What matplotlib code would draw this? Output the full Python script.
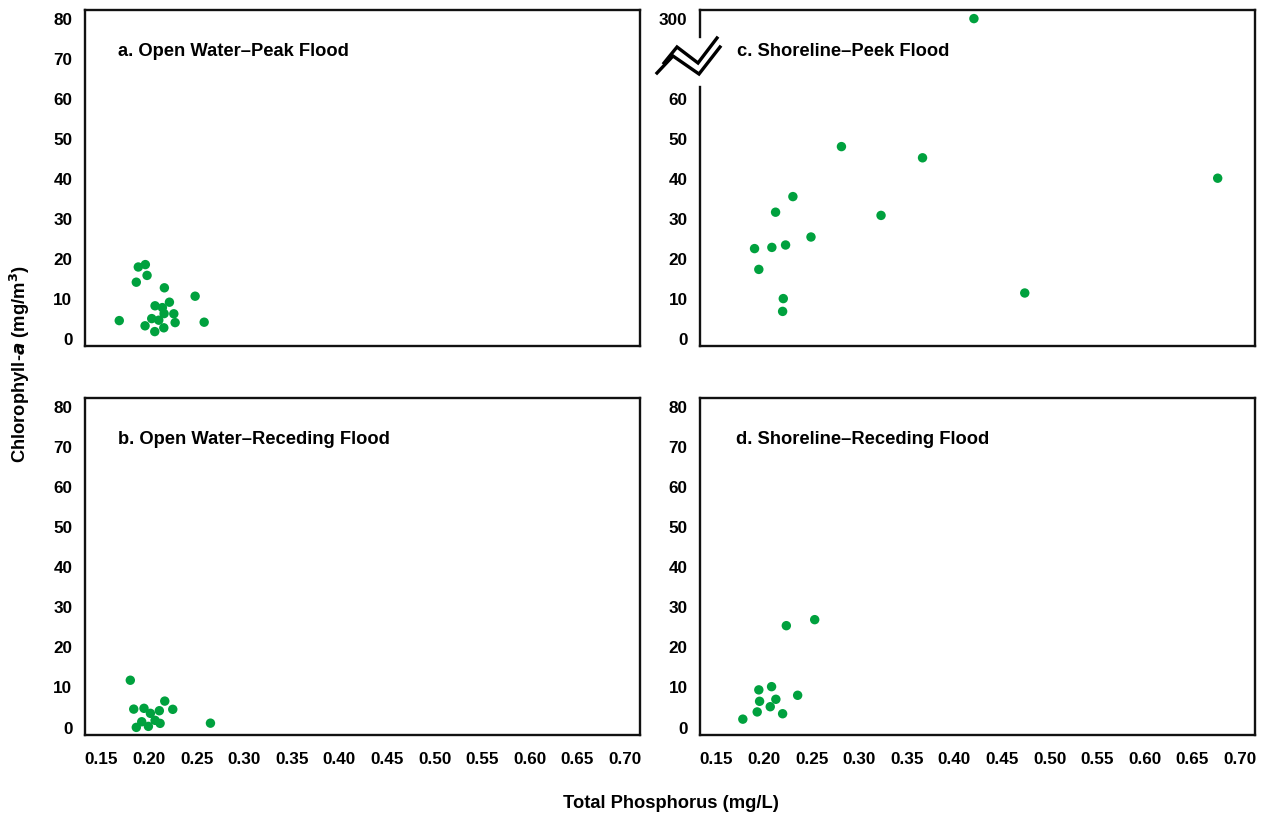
import numpy as np
import matplotlib
matplotlib.use("Agg")
import matplotlib.pyplot as plt
from matplotlib.lines import Line2D

plt.rcParams['font.family'] = ['Liberation Sans', 'DejaVu Sans']
plt.rcParams['font.weight'] = 'bold'

# ---------------- data ----------------
a_tp = [0.1887, 0.1961, 0.1979, 0.1866, 0.2161, 0.2484, 0.2214, 0.2063, 0.2140, 0.2158,
        0.2260, 0.1687, 0.2028, 0.2102, 0.2274, 0.2579, 0.1958, 0.2155, 0.2060]
a_chl = [17.9, 18.5, 15.8, 14.1, 12.7, 10.6, 9.1, 8.2, 7.75, 6.25,
         6.2, 4.5, 5.0, 4.6, 4.0, 4.1, 3.2, 2.7, 1.75]

b_tp = [0.1803, 0.1839, 0.1947, 0.2165, 0.2014, 0.2108, 0.2249, 0.1923, 0.2063, 0.2116,
        0.1866, 0.1993, 0.2645]
b_chl = [11.8, 4.6, 4.8, 6.6, 3.55, 4.2, 4.55, 1.45, 1.8, 1.05, 0.05, 0.3, 1.1]

c_tp = [0.2813, 0.3665, 0.2303, 0.2121, 0.3229, 0.2493, 0.1900, 0.2082, 0.2226, 0.1945,
        0.2202, 0.2195, 0.4739, 0.6766, 0.4205]
c_chl = [48.0, 45.2, 35.5, 31.6, 30.8, 25.4, 22.5, 22.8, 23.4, 17.3,
         10.0, 6.8, 11.4, 40.1, 300.0]

d_tp = [0.2234, 0.2532, 0.1945, 0.2079, 0.2353, 0.1953, 0.2124, 0.2065, 0.1928, 0.2195, 0.1777]
d_chl = [25.4, 26.9, 9.4, 10.2, 8.05, 6.55, 7.05, 5.2, 3.9, 3.45, 2.1]

x_ticks = [0.15, 0.20, 0.25, 0.30, 0.35, 0.40, 0.45, 0.50, 0.55, 0.60, 0.65, 0.70]
y_ticks = [0, 10, 20, 30, 40, 50, 60, 70, 80]
c_y_ticks = [0, 10, 20, 30, 40, 50, 60, 300]

titles = ["a. Open Water\u2013Peak Flood", "b. Open Water\u2013Receding Flood",
          "c. Shoreline\u2013Peek Flood", "d. Shoreline\u2013Receding Flood"]

# ---------------- figure ----------------
W, H = 1266, 816
fig = plt.figure(figsize=(W / 100, H / 100), dpi=100)

def box(l, t, r, b):
    return [l / W, 1 - b / H, (r - l) / W, (b - t) / H]

ax_a = fig.add_axes(box(85, 10, 640, 346))
ax_b = fig.add_axes(box(85, 398, 640, 735))
ax_c = fig.add_axes(box(700, 10, 1255, 346))
ax_d = fig.add_axes(box(700, 398, 1255, 735))

GREEN = '#00a13e'
FS = 12.3
XLIM = (0.1327, 0.7158)
YLIM = (-1.85, 82.15)

def brk_fwd(y):
    y = np.asarray(y, dtype=float)
    return np.where(y <= 70, y, 70 + (y - 70) / 23.0)

def brk_inv(y):
    y = np.asarray(y, dtype=float)
    return np.where(y <= 70, y, 70 + (y - 70) * 23.0)

for ax, xs, ys, title, bottom, tx in [(ax_a, a_tp, a_chl, titles[0], False, 0.059),
                                      (ax_b, b_tp, b_chl, titles[1], True, 0.059),
                                      (ax_c, c_tp, c_chl, titles[2], False, 0.066),
                                      (ax_d, d_tp, d_chl, titles[3], True, 0.064)]:
    if ax is ax_c:
        ax.set_yscale('function', functions=(brk_fwd, brk_inv))
        ax.set_ylim(YLIM[0], brk_inv(YLIM[1]))
        ax.set_yticks(c_y_ticks)
        ax.set_yticklabels([str(v) for v in c_y_ticks])
    else:
        ax.set_ylim(*YLIM)
        ax.set_yticks(y_ticks)
        ax.set_yticklabels([str(v) for v in y_ticks])
    ax.minorticks_off()
    ax.set_xlim(*XLIM)
    ax.set_xticks(x_ticks)
    if bottom:
        ax.set_xticklabels(["%.2f" % v for v in x_ticks])
    else:
        ax.set_xticklabels([])
    ax.scatter(xs, ys, s=46, color=GREEN, edgecolors='none', zorder=3, clip_on=False)
    ax.tick_params(axis='both', length=0, labelsize=FS)
    ax.tick_params(axis='y', pad=9)
    ax.tick_params(axis='x', pad=12)
    for lab in ax.get_xticklabels() + ax.get_yticklabels():
        lab.set_fontweight('bold')
    for sp in ax.spines.values():
        sp.set_linewidth(1.7)
        sp.set_color('#111111')
    ax.text(tx, 0.877, title, transform=ax.transAxes, fontsize=13.2,
            fontweight='bold', ha='left', va='center')

# broken left spine for panel c
ax_c.spines['left'].set_visible(False)
for y0, y1 in [(0.0, 0.7708), (0.9196, 1.0)]:
    ax_c.add_line(Line2D([0, 0], [y0, y1], transform=ax_c.transAxes, color='#111111',
                         lw=1.7, clip_on=False, solid_capstyle='projecting'))

# zigzag break symbol (figure pixel coords)
def fx(px):
    return px / W

def fy(py):
    return 1 - py / H

zz_upper = [(664, 63), (677, 47), (698, 63), (717, 38)]
zz_lower = [(657, 73), (673, 56), (699, 74), (720, 47)]
for pts in (zz_upper, zz_lower):
    fig.add_artist(Line2D([fx(p[0]) for p in pts], [fy(p[1]) for p in pts],
                          transform=fig.transFigure, color='black', lw=2.4,
                          solid_joinstyle='miter'))

fig.text(20 / W, 1 - 364 / H, r"Chlorophyll-$\mathit{a}$ (mg/m$^3$)", rotation=90,
         ha='center', va='center', fontsize=13.2, fontweight='bold')
fig.text(671 / W, 1 - 803 / H, "Total Phosphorus (mg/L)", ha='center', va='center',
         fontsize=13.2, fontweight='bold')

fig.savefig("out.png", dpi=100)
